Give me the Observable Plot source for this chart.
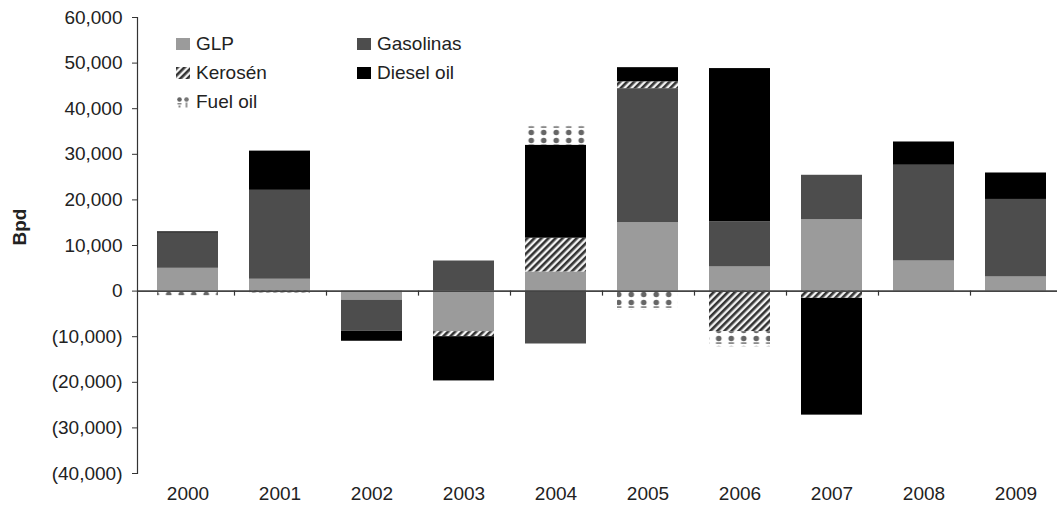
<!DOCTYPE html>
<html>
<head>
<meta charset="utf-8">
<script src="https://cdn.jsdelivr.net/npm/d3@7"></script>
<script src="https://cdn.jsdelivr.net/npm/@observablehq/plot@0.6"></script>
<style>
  body { margin: 0; background: #fff; }
  #wrap { position: relative; width: 1057px; height: 507px; font-family: "Liberation Sans", Arial, sans-serif; }
  #legend { position: absolute; left: 176px; top: 33px; display: grid; grid-template-columns: 181px 180px; row-gap: 7px; font-size: 19px; color: #222; }
  .item { display: flex; align-items: center; height: 22px; }
  .item svg { margin-right: 6px; }
</style>
</head>
<body>
<div id="wrap"></div>
<script>
const years = ["2000","2001","2002","2003","2004","2005","2006","2007","2008","2009"];
const series = ["GLP", "Gasolinas", "Kerosén", "Diesel oil", "Fuel oil"];
const glp       = [5000, 2600, -2000, -8900, 4200, 15000, 5300, 15700, 6600, 3100];
const gasolinas = [7700, 19500, -6800, 6600, -11600, 29400, 9900, 9700, 21000, 17000];
const kerosen   = [0, -400, 0, -1100, 7400, 1500, -8900, -1600, 0, 0];
const diesel    = [300, 8600, -2200, -9700, 20400, 3100, 33600, -25600, 5100, 5800];
const fueloil   = [-1000, 0, 0, 0, 4200, -4200, -3300, 0, 0, 0];
const yTicks = [-40000, -30000, -20000, -10000, 0, 10000, 20000, 30000, 40000, 50000, 60000];

const valuesBySeries = [glp, gasolinas, kerosen, diesel, fueloil];
const data = [];
series.forEach((s, i) => years.forEach((y, j) => {
  if (valuesBySeries[i][j] !== 0) data.push({series: s, year: y, value: valuesBySeries[i][j]});
}));

const fills = ["#9b9b9b", "#4d4d4d", "url(#kero)", "#000000", "url(#fuel)"];
const fmt = d3.format(",");
const tickFormat = d => d < 0 ? `(${fmt(-d)})` : fmt(d);

const chart = Plot.plot({
  width: 1057,
  height: 507,
  marginLeft: 137,
  marginRight: 0,
  marginTop: 17,
  marginBottom: 34,
  style: {fontFamily: "Liberation Sans, Arial, sans-serif", fontSize: "19px", color: "#222", background: "white"},
  x: {domain: years, range: [137, 1067], paddingInner: 0.333, paddingOuter: 0.1667, label: null},
  y: {domain: [-40000, 60000], label: null},
  color: {domain: series, range: fills},
  marks: [
    Plot.barY(data, Plot.stackY({x: "year", y: "value", fill: "series"})),
    Plot.ruleY([0], {stroke: "#444", strokeWidth: 1.6}),
    Plot.ruleX(years, {x: d => d, y1: 0, y2: -1100, dx: 46.5, stroke: "#333", strokeWidth: 1.2}),
    Plot.frame({anchor: "left", stroke: "#333", strokeWidth: 1.2}),
    Plot.axisY({ticks: yTicks, tickFormat, tickSize: 5, tickPadding: 10, label: null, stroke: "#333"}),
    Plot.axisX({tickSize: 0, tickPadding: 13, label: null}),
    Plot.text(["Bpd"], {frameAnchor: "left", dx: -118, rotate: -90, fontWeight: "bold", fontSize: 19, fill: "#222"})
  ]
});

const defs = `
<defs>
  <pattern id="kero" patternUnits="userSpaceOnUse" width="5" height="5" patternTransform="rotate(45)">
    <rect width="5" height="5" fill="#f2f2f2"/>
    <rect width="2.6" height="5" fill="#333"/>
  </pattern>
  <pattern id="fuel" patternUnits="userSpaceOnUse" width="12.5" height="18">
    <rect width="12.5" height="18" fill="#fff"/>
    <rect x="3.5" y="0.2" width="5.5" height="1.8" fill="#8a8a8a"/>
    <circle cx="6.25" cy="6.5" r="2.8" fill="#666"/>
    <circle cx="6.25" cy="14.5" r="2.8" fill="#666"/>
  </pattern>
</defs>`;
chart.insertAdjacentHTML("afterbegin", defs);

const wrap = document.getElementById("wrap");
wrap.appendChild(chart);

const legend = document.createElement("div");
legend.id = "legend";
series.forEach((s, i) => {
  const it = document.createElement("div");
  it.className = "item";
  let sw;
  if (s === "Fuel oil") {
    sw = `<svg width="14" height="12">
      <circle cx="3.5" cy="3.5" r="2.3" fill="#666"/><rect x="1.5" y="7" width="4" height="1.5" fill="#888"/><rect x="2.5" y="9.5" width="2" height="2" fill="#888"/>
      <circle cx="10.5" cy="3.5" r="2.3" fill="#777"/><rect x="9.5" y="6.5" width="2" height="5" fill="#999"/>
    </svg>`;
  } else {
    sw = `<svg width="14" height="12"><rect width="14" height="12" fill="${fills[i]}"/></svg>`;
  }
  it.innerHTML = `${sw}<span>${s}</span>`;
  legend.appendChild(it);
});
wrap.appendChild(legend);
</script>
</body>
</html>
